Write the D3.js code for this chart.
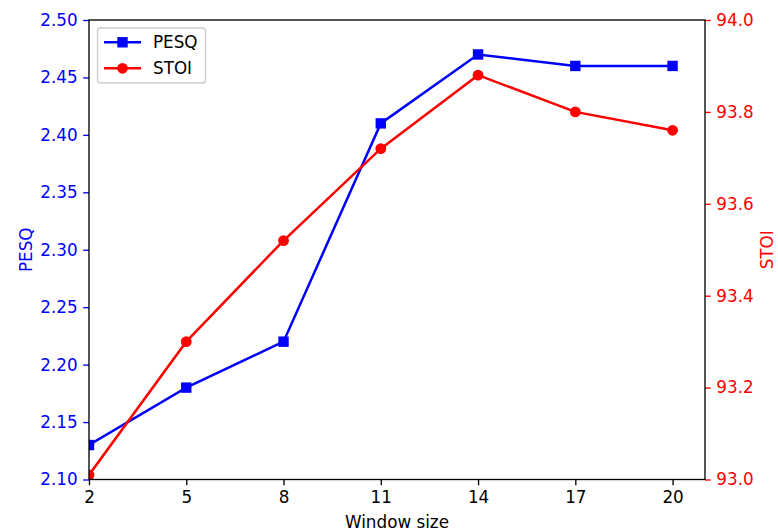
<!DOCTYPE html>
<html><head><meta charset="utf-8">
<script src="https://cdn.jsdelivr.net/npm/d3@7"></script>
<style>body{margin:0;background:#fff}svg{display:block}text{font-family:"DejaVu Sans",sans-serif}</style>
</head><body>
<script>
const windowSizes = [2, 5, 8, 11, 14, 17, 20];
const pesq = [2.13, 2.18, 2.22, 2.41, 2.47, 2.46, 2.46];
const stoi = [93.01, 93.30, 93.52, 93.72, 93.88, 93.80, 93.76];
const pesqTicks = [2.10, 2.15, 2.20, 2.25, 2.30, 2.35, 2.40, 2.45, 2.50];
const stoiTicks = [93.0, 93.2, 93.4, 93.6, 93.8, 94.0];

const W = 778, H = 532;
const m = {l: 89, r: 705, t: 20, b: 479.5};
const fs = 16.8;
const svg = d3.select("body").append("svg").attr("width", W).attr("height", H);
const x = d3.scaleLinear().domain([2, 21]).range([m.l, m.r]);
const yL = d3.scaleLinear().domain([2.10, 2.50]).range([m.b, m.t]);
const yR = d3.scaleLinear().domain([93.0, 94.0]).range([m.b, m.t]);

svg.append("defs").append("clipPath").attr("id", "clip")
  .append("rect").attr("x", m.l).attr("y", m.t).attr("width", m.r - m.l).attr("height", m.b - m.t);

function styleAxis(g, color) {
  g.select(".domain").remove();
  g.selectAll(".tick line").attr("stroke", color).attr("stroke-width", 1.33);
  g.selectAll(".tick text").attr("fill", color).style("font-size", fs + "px").style("font-family", "DejaVu Sans");
}
const gx = svg.append("g").attr("transform", `translate(0,${m.b})`)
  .call(d3.axisBottom(x).tickValues(windowSizes).tickFormat(d3.format("d")).tickSize(5.8).tickPadding(5.5));
styleAxis(gx, "#000");
const gl = svg.append("g").attr("transform", `translate(${m.l},0)`)
  .call(d3.axisLeft(yL).tickValues(pesqTicks).tickFormat(d3.format(".2f")).tickSize(5.8).tickPadding(5.5));
styleAxis(gl, "#0000ff");
const gr = svg.append("g").attr("transform", `translate(${m.r},0)`)
  .call(d3.axisRight(yR).tickValues(stoiTicks).tickFormat(d3.format(".1f")).tickSize(5.8).tickPadding(5.5));
styleAxis(gr, "#ff0000");

const plot = svg.append("g").attr("clip-path", "url(#clip)");
const lineP = d3.line().x((d, i) => x(windowSizes[i])).y(d => yL(d));
const lineS = d3.line().x((d, i) => x(windowSizes[i])).y(d => yR(d));
plot.append("path").datum(pesq).attr("d", lineP).attr("fill", "none").attr("stroke", "#0000ff").attr("stroke-width", 2.5);
plot.selectAll(".sq").data(pesq).enter().append("rect")
  .attr("x", (d, i) => x(windowSizes[i]) - 5.2).attr("y", d => yL(d) - 5.2)
  .attr("width", 10.4).attr("height", 10.4).attr("fill", "#0000ff");
plot.append("path").datum(stoi).attr("d", lineS).attr("fill", "none").attr("stroke", "#ff0000").attr("stroke-width", 2.5);
plot.selectAll(".ci").data(stoi).enter().append("circle")
  .attr("cx", (d, i) => x(windowSizes[i])).attr("cy", d => yR(d)).attr("r", 5.4).attr("fill", "#ff0000");

// frame
svg.append("rect").attr("x", m.l).attr("y", m.t).attr("width", m.r - m.l).attr("height", m.b - m.t)
  .attr("fill", "none").attr("stroke", "#000").attr("stroke-width", 1.33);

// labels
svg.append("text").attr("x", (m.l + m.r) / 2).attr("y", 528).attr("text-anchor", "middle")
  .style("font-size", fs + "px").text("Window size");
svg.append("text").attr("transform", `translate(32,${(m.t + m.b) / 2}) rotate(-90)`).attr("text-anchor", "middle")
  .attr("fill", "#0000ff").style("font-size", fs + "px").text("PESQ");
svg.append("text").attr("transform", `translate(773,${(m.t + m.b) / 2}) rotate(-90)`).attr("text-anchor", "middle")
  .attr("fill", "#ff0000").style("font-size", fs + "px").text("STOI");

// legend
const lg = svg.append("g");
lg.append("rect").attr("x", 97.5).attr("y", 28).attr("width", 108).attr("height", 55).attr("rx", 3)
  .attr("fill", "#fff").attr("fill-opacity", 0.8).attr("stroke", "#cccccc").attr("stroke-width", 1.33);
const items = [{name: "PESQ", c: "#0000ff", shape: "sq"}, {name: "STOI", c: "#ff0000", shape: "ci"}];
items.forEach((it, i) => {
  const cy = 42.3 + i * 26;
  lg.append("line").attr("x1", 104).attr("x2", 141).attr("y1", cy).attr("y2", cy).attr("stroke", it.c).attr("stroke-width", 2.5);
  if (it.shape === "sq") lg.append("rect").attr("x", 117.3).attr("y", cy - 5.2).attr("width", 10.4).attr("height", 10.4).attr("fill", it.c);
  else lg.append("circle").attr("cx", 122.5).attr("cy", cy).attr("r", 5.4).attr("fill", it.c);
  lg.append("text").attr("x", 153).attr("y", cy + 6).style("font-size", fs + "px").text(it.name);
});
</script>
</body></html>
